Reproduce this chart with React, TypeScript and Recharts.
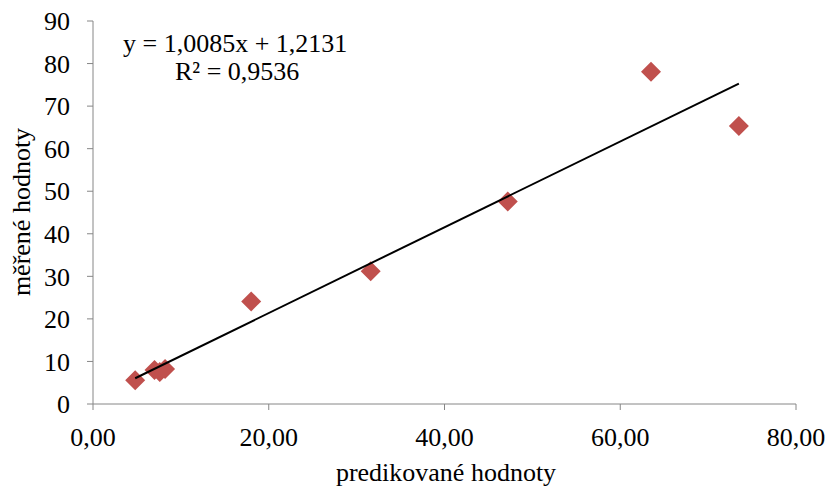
import React from 'react'
import { ScatterChart, Scatter, XAxis, YAxis } from 'recharts'

const predicted = [4.8, 7.0, 7.6, 8.2, 18.0, 31.6, 47.2, 63.5, 73.5]
const measured = [5.6, 8.0, 7.5, 8.2, 24.1, 31.2, 47.6, 78.1, 65.3]
const trendX = [4.8, 73.5]
const trendY = [6.05, 75.3]
const xTicks = [0, 20, 40, 60, 80]
const yTicks = [0, 10, 20, 30, 40, 50, 60, 70, 80, 90]

const points = predicted.map((x, i) => ({ x, y: measured[i] }))
const trend = trendX.map((x, i) => ({ x, y: trendY[i] }))

const FONT = '"Liberation Serif", "Times New Roman", serif'
const AXIS = '#868686'
const FS = 26

const Diamond = (props: any) => {
  const { cx, cy } = props
  const r = 10
  return (
    <polygon
      points={`${cx},${cy - r} ${cx + r},${cy} ${cx},${cy + r} ${cx - r},${cy}`}
      fill="#C0504D"
    />
  )
}

export default function App() {
  return (
    <div style={{ position: 'absolute', left: 0, top: 0, width: 827, height: 488, background: '#fff', fontFamily: FONT }}>
      <ScatterChart width={827} height={488} margin={{ top: 21, right: 31, bottom: 0, left: 0 }}>
        <XAxis
          type="number"
          dataKey="x"
          domain={[0, 80]}
          ticks={xTicks}
          tickFormatter={(v: number) => v.toFixed(2).replace('.', ',')}
          height={84}
          stroke={AXIS}
          tickSize={6}
          tickMargin={18}
          tick={{ fill: '#000', fontSize: FS, fontFamily: FONT }}
          interval={0}
        />
        <YAxis
          type="number"
          dataKey="y"
          domain={[0, 90]}
          ticks={yTicks}
          width={93}
          stroke={AXIS}
          tickSize={6}
          tickMargin={17}
          tick={{ fill: '#000', fontSize: FS, fontFamily: FONT }}
          interval={0}
        />
        <Scatter data={points} shape={<Diamond />} isAnimationActive={false} />
        <Scatter
          data={trend}
          line={{ stroke: '#000', strokeWidth: 2 }}
          shape={() => null}
          isAnimationActive={false}
        />
        <text x={21} y={212} transform="rotate(-90 21 212)" textAnchor="middle" dominantBaseline="central" fontSize={FS} fontFamily={FONT} fill="#000">
          měřené hodnoty
        </text>
        <text x={446} y={481} textAnchor="middle" fontSize={FS} fontFamily={FONT} fill="#000">
          predikované hodnoty
        </text>
        <text x={123} y={52} fontSize={FS} fontFamily={FONT} fill="#000">
          y = 1,0085x + 1,2131
        </text>
        <text x={175} y={80} fontSize={FS} fontFamily={FONT} fill="#000">
          R² = 0,9536
        </text>
      </ScatterChart>
    </div>
  )
}
